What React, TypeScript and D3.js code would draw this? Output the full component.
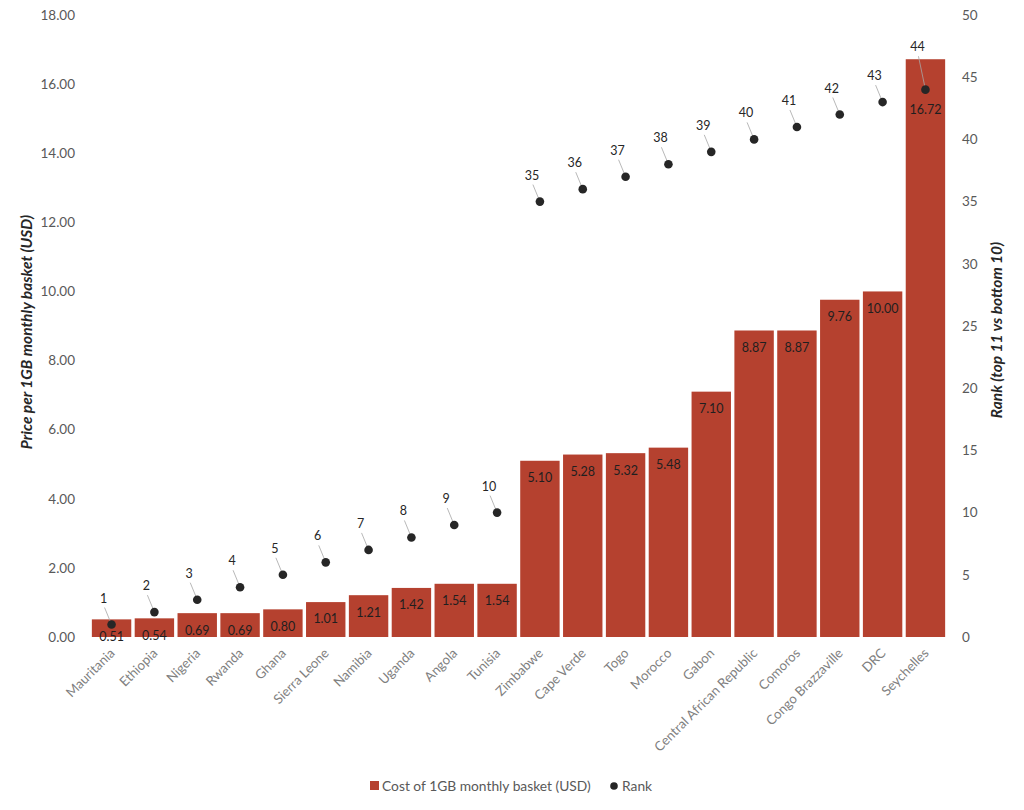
import { useEffect, useRef } from "react";
import * as d3 from "d3";

const countries = [
  "Mauritania", "Ethiopia", "Nigeria", "Rwanda", "Ghana", "Sierra Leone", "Namibia",
  "Uganda", "Angola", "Tunisia", "Zimbabwe", "Cape Verde", "Togo", "Morocco", "Gabon",
  "Central African Republic", "Comoros", "Congo Brazzaville", "DRC", "Seychelles",
];
const costs = [0.51, 0.54, 0.69, 0.69, 0.8, 1.01, 1.21, 1.42, 1.54, 1.54, 5.1, 5.28, 5.32, 5.48, 7.1, 8.87, 8.87, 9.76, 10.0, 16.72];
const ranks = [1, 2, 3, 4, 5, 6, 7, 8, 9, 10, 35, 36, 37, 38, 39, 40, 41, 42, 43, 44];
const leftTicks = [0, 2, 4, 6, 8, 10, 12, 14, 16, 18];
const rightTicks = [0, 5, 10, 15, 20, 25, 30, 35, 40, 45, 50];

const BAR = "#b5412f";
const FONT = "Lato, 'Open Sans', sans-serif";

export default function App() {
  const svgRef = useRef<SVGSVGElement>(null);

  useEffect(() => {
    document.body.style.margin = "0";
    if (!svgRef.current) return;
    const svg = d3.select(svgRef.current);
    svg.selectAll("*").remove();

    const left = 91;
    const right = 946;
    const top = 15;
    const bottom = 637;

    const x = d3.scaleBand().domain(countries).range([left, right]).paddingInner(0.08).paddingOuter(0.02);
    const y = d3.scaleLinear().domain([0, 18]).range([bottom, top]);
    const yr = d3.scaleLinear().domain([0, 50]).range([bottom, top]);
    const cxOf = (i: number) => (x(countries[i]) ?? 0) + x.bandwidth() / 2;

    // 左軸
    svg.append("g")
      .selectAll("text")
      .data(leftTicks)
      .join("text")
      .attr("x", 75)
      .attr("y", (d) => y(d))
      .attr("dy", "0.35em")
      .attr("text-anchor", "end")
      .attr("font-size", 13.5)
      .attr("fill", "#595959")
      .text((d) => d.toFixed(2));

    // 右軸
    svg.append("g")
      .selectAll("text")
      .data(rightTicks)
      .join("text")
      .attr("x", 962)
      .attr("y", (d) => yr(d))
      .attr("dy", "0.35em")
      .attr("font-size", 13.5)
      .attr("fill", "#595959")
      .text((d) => d);

    // 軸タイトル
    svg.append("text")
      .attr("transform", `translate(32,${(top + bottom) / 2 + 6}) rotate(-90)`)
      .attr("text-anchor", "middle")
      .attr("font-size", 15.5)
      .attr("font-weight", "bold")
      .attr("font-style", "italic")
      .attr("fill", "#262626")
      .text("Price per 1GB monthly basket (USD)");

    svg.append("text")
      .attr("transform", `translate(1002,${(top + bottom) / 2 + 4}) rotate(-90)`)
      .attr("text-anchor", "middle")
      .attr("font-size", 15.5)
      .attr("font-weight", "bold")
      .attr("font-style", "italic")
      .attr("fill", "#262626")
      .text("Rank (top 11 vs bottom 10)");

    // 棒
    svg.append("g")
      .selectAll("rect")
      .data(costs)
      .join("rect")
      .attr("x", (_, i) => x(countries[i]) ?? 0)
      .attr("y", (d) => y(d))
      .attr("width", x.bandwidth())
      .attr("height", (d) => bottom - y(d))
      .attr("fill", BAR);

    // 棒ラベル（点と重なる場合は点の下へ）
    svg.append("g")
      .selectAll("text")
      .data(costs)
      .join("text")
      .attr("x", (_, i) => cxOf(i))
      .attr("y", (d, i) => {
        const ly = y(d) + 17;
        const dot = yr(ranks[i]);
        return Math.abs(ly - dot) < 16 && y(d) < dot - 12 ? dot + 20 : ly;
      })
      .attr("dy", "0.35em")
      .attr("text-anchor", "middle")
      .attr("font-size", 12.5)
      .attr("fill", "#1f1f1f")
      .text((d) => d.toFixed(2));

    // カテゴリラベル
    svg.append("g")
      .selectAll("text")
      .data(countries)
      .join("text")
      .attr("transform", (_, i) => `translate(${cxOf(i) + 4},${bottom + 17}) rotate(-45)`)
      .attr("text-anchor", "end")
      .attr("font-size", 13.2)
      .attr("fill", "#7f7f7f")
      .text((d) => d);

    // ランク点
    const rankG = svg.append("g");
    ranks.forEach((r, i) => {
      const cx = cxOf(i);
      const cy = yr(r);
      let ly = cy - 22;
      const barTop = y(costs[i]);
      if (ly > barTop - 6 && ly < bottom) ly = Math.min(ly, barTop - 8);
      const lx = cx - 8;
      rankG.append("line")
        .attr("x1", lx + 1)
        .attr("y1", ly + 5)
        .attr("x2", cx)
        .attr("y2", cy)
        .attr("stroke", "#a6a6a6")
        .attr("stroke-width", 0.8);
      rankG.append("circle")
        .attr("cx", cx)
        .attr("cy", cy)
        .attr("r", 4.3)
        .attr("fill", "#262626");
      rankG.append("text")
        .attr("x", lx)
        .attr("y", ly)
        .attr("text-anchor", "middle")
        .attr("font-size", 12.5)
        .attr("fill", "#262626")
        .text(r);
    });

    // 凡例
    const lg = svg.append("g").attr("font-size", 13.8).attr("fill", "#595959");
    lg.append("rect").attr("x", 370).attr("y", 781).attr("width", 9).attr("height", 9).attr("fill", BAR);
    lg.append("text").attr("x", 382).attr("y", 790.5).text("Cost of 1GB monthly basket (USD)");
    lg.append("circle").attr("cx", 614).attr("cy", 786).attr("r", 3.8).attr("fill", "#262626");
    lg.append("text").attr("x", 622).attr("y", 790.5).text("Rank");
  }, []);

  return (
    <svg
      ref={svgRef}
      width={1024}
      height={810}
      style={{ display: "block", background: "#fff", fontFamily: FONT }}
    />
  );
}
